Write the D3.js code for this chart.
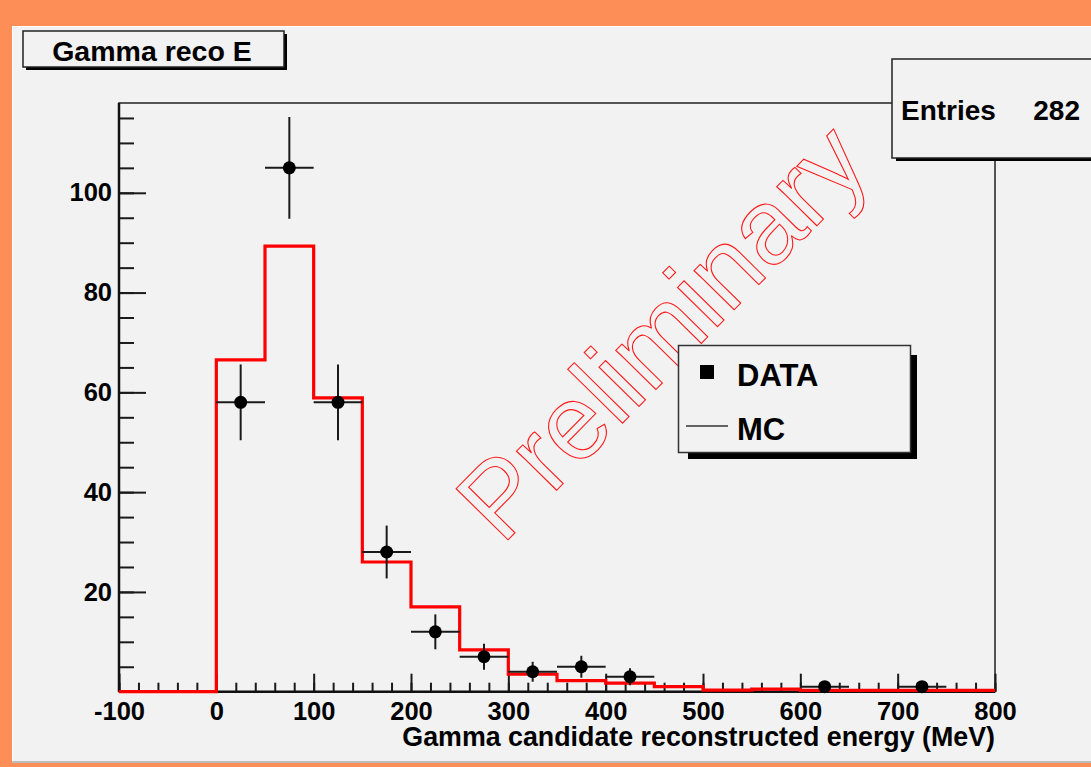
<!DOCTYPE html>
<html>
<head>
<meta charset="utf-8">
<script src="https://cdn.jsdelivr.net/npm/d3@7"></script>
<style>
  html, body { margin: 0; padding: 0; background: #fe8e57; }
  svg { display: block; }
  text { font-family: "Liberation Sans", Arial, sans-serif; font-weight: bold; fill: #000; }
</style>
</head>
<body>
<svg id="chart" width="1091" height="767"></svg>
<script>
// MC histogram: low edge of each 50 MeV bin and its content
const mcBinLow = [-100, -50, 0, 50, 100, 150, 200, 250, 300, 350, 400, 450, 500, 550, 600, 650, 700, 750];
const mcValues = [0, 0, 66.5, 89.3, 58.9, 26, 17, 8.4, 3.5, 2.2, 1.7, 1.0, 0.3, 0.5, 0.25, 0.25, 0.25, 0.25];
const binWidth = 50;

// data points (bin centres), counts and vertical errors
const dataX = [25, 75, 125, 175, 225, 275, 325, 375, 425, 625, 725];
const dataY = [58, 105, 58, 28, 12, 7, 4, 5, 3, 1, 1];
const dataErr = [7.6, 10.2, 7.6, 5.3, 3.5, 2.6, 2.0, 2.2, 1.7, 1.0, 1.0];

const xMajorTicks = [-100, 0, 100, 200, 300, 400, 500, 600, 700, 800];
const yMajorTicks = [20, 40, 60, 80, 100];

const titleText = "Gamma reco E";
const xTitle = "Gamma candidate reconstructed energy (MeV)";
const entries = 282;

const svg = d3.select('#chart');

const x = d3.scaleLinear().domain([-100, 800]).range([119, 995]);
const y = d3.scaleLinear().domain([0, 118]).range([691.7, 103]);

// panel
svg.append('rect').attr('x', 12).attr('y', 26).attr('width', 1079).attr('height', 736).attr('fill', '#f2f2f2');
svg.append('path').attr('d', 'M12.5,762 V26.5 H1091').attr('fill', 'none').attr('stroke', '#fff').attr('stroke-width', 1);
svg.append('line').attr('x1', 12).attr('x2', 1091).attr('y1', 762).attr('y2', 762).attr('stroke', '#bdbdbd').attr('stroke-width', 2);

// watermark
svg.append('text')
  .attr('transform', 'translate(502,546) rotate(-45.5)')
  .style('font-weight', 'normal')
  .style('font-size', '106px')
  .style('fill', 'none')
  .attr('stroke', '#ff1a1a')
  .attr('stroke-width', 1.1)
  .text('Preliminary');

// frame
svg.append('rect')
  .attr('x', x(-100)).attr('y', y(118))
  .attr('width', x(800) - x(-100)).attr('height', y(0) - y(118))
  .attr('fill', 'none').attr('stroke', '#222').attr('stroke-width', 1.5);

// axes
const xMinor = d3.axisBottom(x).tickValues(d3.range(-100, 801, 20)).tickSize(-9).tickFormat('');
const xMajor = d3.axisBottom(x).tickValues(xMajorTicks).tickSize(-18).tickPadding(10).tickFormat(d => String(d));
const yMinor = d3.axisLeft(y).tickValues(d3.range(5, 118, 5)).tickSize(-15).tickFormat('');
const yMajor = d3.axisLeft(y).tickValues(yMajorTicks).tickSize(-27).tickPadding(7).tickFormat(d => String(d));

function styleAxis(g) {
  g.select('.domain').remove();
  g.selectAll('line').attr('stroke', '#1a1a1a').attr('stroke-width', 2);
  g.selectAll('text').style('font-size', '25.5px').style('font-family', '"Liberation Sans", Arial, sans-serif');
}

svg.append('g').attr('transform', `translate(0,${y(0)})`).call(xMinor).call(styleAxis);
svg.append('g').attr('transform', `translate(0,${y(0)})`).call(xMajor).call(styleAxis);
svg.append('g').attr('transform', `translate(${x(-100)},0)`).call(yMinor).call(styleAxis);
svg.append('g').attr('transform', `translate(${x(-100)},0)`).call(yMajor).call(styleAxis);

svg.append('line').attr('x1', x(-100)).attr('x2', x(800)).attr('y1', y(0)).attr('y2', y(0)).attr('stroke', '#111').attr('stroke-width', 2.5);
svg.append('line').attr('x1', x(-100)).attr('x2', x(-100)).attr('y1', y(0)).attr('y2', y(118)).attr('stroke', '#111').attr('stroke-width', 2.5);

// MC step histogram
const mcPoints = mcBinLow.map((b, i) => [b, mcValues[i]]);
mcPoints.push([mcBinLow[mcBinLow.length - 1] + binWidth, mcValues[mcValues.length - 1]]);
const step = d3.line().x(d => x(d[0])).y(d => y(d[1])).curve(d3.curveStepAfter);
svg.append('path')
  .datum(mcPoints)
  .attr('d', step)
  .attr('fill', 'none')
  .attr('stroke', '#ff0000')
  .attr('stroke-width', 3.2);

// data points with error bars
const pts = svg.append('g').selectAll('g')
  .data(dataX.map((d, i) => ({ x: d, y: dataY[i], e: dataErr[i] })))
  .enter()
  .append('g');

pts.append('line')
  .attr('x1', d => x(d.x - binWidth / 2)).attr('x2', d => x(d.x + binWidth / 2))
  .attr('y1', d => y(d.y)).attr('y2', d => y(d.y))
  .attr('stroke', '#1a1a1a').attr('stroke-width', 2);
pts.append('line')
  .attr('x1', d => x(d.x)).attr('x2', d => x(d.x))
  .attr('y1', d => y(d.y + d.e)).attr('y2', d => y(Math.max(0, d.y - d.e)))
  .attr('stroke', '#1a1a1a').attr('stroke-width', 2);
pts.append('circle')
  .attr('cx', d => x(d.x)).attr('cy', d => y(d.y))
  .attr('r', 6.5).attr('fill', '#000');

// x axis title
svg.append('text')
  .attr('x', x(800)).attr('y', 746)
  .attr('text-anchor', 'end')
  .style('font-size', '26.8px')
  .text(xTitle);

// title box
svg.append('rect').attr('x', 26).attr('y', 34).attr('width', 261).attr('height', 36).attr('fill', '#000');
svg.append('rect').attr('x', 23).attr('y', 31).attr('width', 261).attr('height', 36)
  .attr('fill', '#f2f2f2').attr('stroke', '#222').attr('stroke-width', 1.5);
svg.append('text').attr('x', 152).attr('y', 60.5).attr('text-anchor', 'middle')
  .style('font-size', '28.5px').text(titleText);

// stats box
svg.append('rect').attr('x', 896).attr('y', 62).attr('width', 200).attr('height', 99).attr('fill', '#000');
svg.append('rect').attr('x', 892).attr('y', 59).attr('width', 205).attr('height', 99)
  .attr('fill', '#f2f2f2').attr('stroke', '#222').attr('stroke-width', 1.5);
svg.append('text').attr('x', 901).attr('y', 120).style('font-size', '28px').text('Entries');
svg.append('text').attr('x', 1080).attr('y', 120).attr('text-anchor', 'end').style('font-size', '28px').text(entries);

// legend
svg.append('rect').attr('x', 688).attr('y', 355).attr('width', 229).attr('height', 104).attr('fill', '#000');
svg.append('rect').attr('x', 678.5).attr('y', 345.5).attr('width', 232).attr('height', 107)
  .attr('fill', '#f2f2f2').attr('stroke', '#333').attr('stroke-width', 1.5);
svg.append('rect').attr('x', 700).attr('y', 365).attr('width', 14).attr('height', 14).attr('fill', '#000');
svg.append('text').attr('x', 737).attr('y', 386).style('font-size', '31px').text('DATA');
svg.append('line').attr('x1', 686).attr('x2', 728).attr('y1', 426).attr('y2', 426).attr('stroke', '#333').attr('stroke-width', 1.5);
svg.append('text').attr('x', 737).attr('y', 440).style('font-size', '31px').text('MC');
</script>
</body>
</html>
